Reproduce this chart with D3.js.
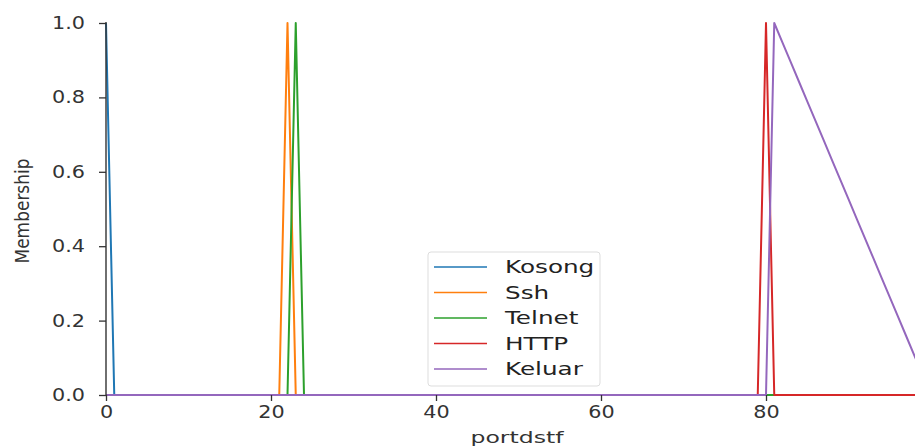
<!DOCTYPE html>
<html>
<head>
<meta charset="utf-8">
<script src="https://cdn.jsdelivr.net/npm/d3@7/dist/d3.min.js"></script>
<style>
  html, body { margin: 0; padding: 0; background: #fff; }
  svg { display: block; }
</style>
</head>
<body>
<script>
// Universe of discourse for the destination-port variable
const universe = d3.range(0, 101, 1);

// Membership function names and triangular parameters [a, b, c]
const setNames = ["Kosong", "Ssh", "Telnet", "HTTP", "Keluar"];
const setParams = [
  [0, 0, 1],
  [21, 22, 23],
  [22, 23, 24],
  [79, 80, 81],
  [80, 81, 100]
];
const setColors = ["#1f77b4", "#ff7f0e", "#2ca02c", "#d62728", "#9467bd"];

const xTicks = [0, 20, 40, 60, 80];
const yTicks = [0, 0.2, 0.4, 0.6, 0.8, 1.0];

function trimf(x, p) {
  const [a, b, c] = p;
  let v = 0;
  if (a !== b && x > a && x < b) v = (x - a) / (b - a);
  if (x === b) v = 1;
  if (b !== c && x > b && x < c) v = (c - x) / (c - b);
  return v;
}

const W = 915, H = 447;
const plotLeft = 106, plotTop = 23, plotBottom = 395;
const xScale = d3.scaleLinear().domain([0, 100]).range([plotLeft, plotLeft + 100 * 8.25]);
const yScale = d3.scaleLinear().domain([0, 1]).range([plotBottom, plotTop]);

const svg = d3.select("body").append("svg").attr("width", W).attr("height", H)
  .style("font-family", "'DejaVu Sans', sans-serif");

// Widen a text element horizontally by the given factor
function widen(sel, k) {
  sel.each(function () {
    const len = this.getComputedTextLength();
    d3.select(this).attr("textLength", len * k).attr("lengthAdjust", "spacingAndGlyphs");
  });
}

// Membership curves
const line = d3.line().x(d => xScale(d[0])).y(d => yScale(d[1]));
setParams.forEach((p, i) => {
  const pts = universe.map(x => [x, trimf(x, p)]);
  svg.append("path")
    .attr("d", line(pts))
    .attr("fill", "none")
    .attr("stroke", setColors[i])
    .attr("stroke-width", 2)
    .attr("stroke-linejoin", "round");
});

// Axes
const xAxis = d3.axisBottom(xScale).tickValues(xTicks).tickFormat(d3.format("d"))
  .tickSize(6).tickPadding(5);
const yAxis = d3.axisLeft(yScale).tickValues(yTicks).tickFormat(d3.format(".1f"))
  .tickSize(7).tickPadding(14);

const gx = svg.append("g").attr("transform", `translate(0,${plotBottom})`).call(xAxis);
const gy = svg.append("g").attr("transform", `translate(${plotLeft},0)`).call(yAxis);
[gx, gy].forEach(g => {
  g.select(".domain").remove();
  g.selectAll(".tick line").attr("stroke", "#333").attr("stroke-width", 1.3);
  g.selectAll(".tick text").attr("fill", "#333").style("font-size", "17px")
    .style("font-family", "'DejaVu Sans', sans-serif");
  widen(g.selectAll(".tick text"), 1.22);
});

// Left spine
svg.append("line").attr("x1", plotLeft).attr("x2", plotLeft)
  .attr("y1", yScale(1) - 1).attr("y2", plotBottom)
  .attr("stroke", "#333").attr("stroke-width", 1.4);

// Axis titles
svg.append("text")
  .attr("transform", `translate(29,${(plotTop + plotBottom) / 2 + 2}) scale(1.25,1) rotate(-90)`)
  .attr("text-anchor", "middle")
  .attr("textLength", 105).attr("lengthAdjust", "spacingAndGlyphs")
  .attr("fill", "#333").style("font-size", "15px")
  .text("Membership");

svg.append("text")
  .attr("x", 517).attr("y", 443)
  .attr("text-anchor", "middle")
  .attr("textLength", 93).attr("lengthAdjust", "spacingAndGlyphs")
  .attr("fill", "#333").style("font-size", "16px")
  .text("portdstf");

// Legend
const lg = svg.append("g").attr("transform", "translate(428,252)");
lg.append("rect").attr("width", 172).attr("height", 134).attr("rx", 3)
  .attr("fill", "#fff").attr("fill-opacity", 0.85)
  .attr("stroke", "#ddd").attr("stroke-width", 1);
setNames.forEach((n, i) => {
  const y = 15 + i * 25.5;
  lg.append("line").attr("x1", 6).attr("x2", 59).attr("y1", y).attr("y2", y)
    .attr("stroke", setColors[i]).attr("stroke-width", 1.6);
  const t = lg.append("text").attr("x", 77).attr("y", y).attr("dy", "0.35em")
    .attr("fill", "#222").style("font-size", "18px").text(n);
  widen(t, 1.37);
});
</script>
</body>
</html>
